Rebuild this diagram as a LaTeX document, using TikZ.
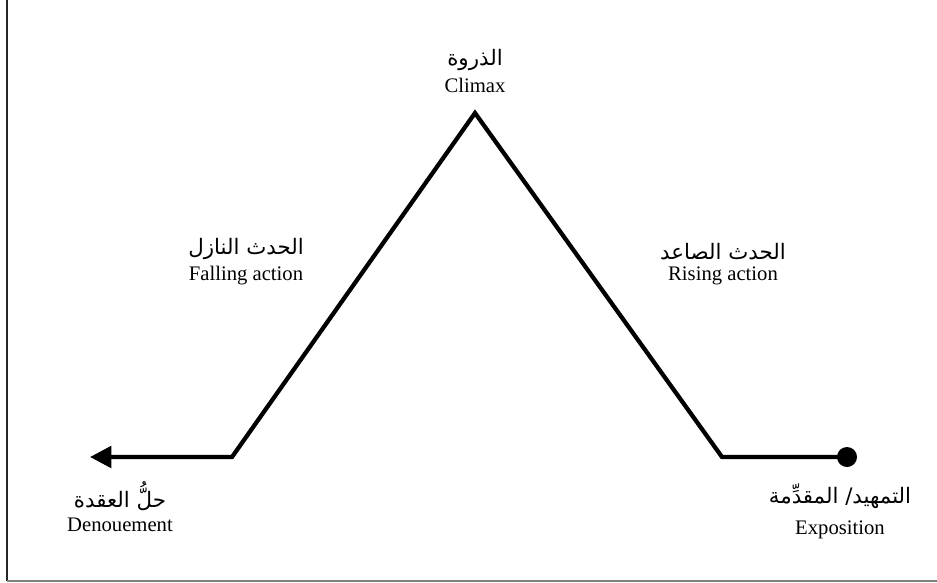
\documentclass[tikz,border=0pt]{standalone}
\usepackage{fontspec}
\setmainfont{Liberation Serif}
\newfontfamily\arabicfont[Script=Arabic]{DejaVu Sans}
\TeXXeTstate=1
\usetikzlibrary{arrows.meta,positioning}

\begin{document}
\begin{tikzpicture}[
    x=0.75pt,y=-0.75pt,
    >={Triangle[length=16pt,width=16pt]},
    plot/.style={line width=3.2pt,line join=miter},
    en/.style={font=\fontsize{15.5}{18}\selectfont,inner sep=1pt},
    ar/.style={font=\arabicfont\fontsize{16}{19}\selectfont,inner sep=1pt},
]
\useasboundingbox (0,0) rectangle (937,582);

% Frame (left and bottom edges only)
\draw[line width=1.5pt,black!85] (7,0) -- (7,581);
\draw[line width=1.5pt,gray] (7,581) -- (937,581);

% Plot points
\coordinate (expo) at (847,457);
\coordinate (rise) at (722,457);
\coordinate (climax) at (475,113);
\coordinate (fall) at (232,457);
\coordinate (denou) at (90,457);

% Plot line
\draw[plot,->] (expo) -- (rise) -- (climax) -- (fall) -- (denou);
\fill (expo) circle (10);

% Labels
\node[en] (climaxen) at (475,85) {Climax};
\node[ar,above=3pt of climaxen] (climaxar) {\beginR الذروة\endR};

\node[en] (fallen) at (246,276) {Falling action};
\node[ar,above=3pt of fallen] (fallar) {\beginR الحدث النازل\endR};

\node[en] (riseen) at (723,276) {Rising action};
\node[ar,above=3pt of riseen] (risear) {\beginR الحدث الصاعد\endR};

\node[en] (denouen) at (120,525) {Denouement};
\node[ar,above=3pt of denouen] (denouar) {\beginR حلُّ العقدة\endR};

\node[en] (expoen) at (840,530) {Exposition};
\node[ar,above=7pt of expoen] (expoar) {\beginR التمهيد/ المقدِّمة\endR};
\end{tikzpicture}
\end{document}
